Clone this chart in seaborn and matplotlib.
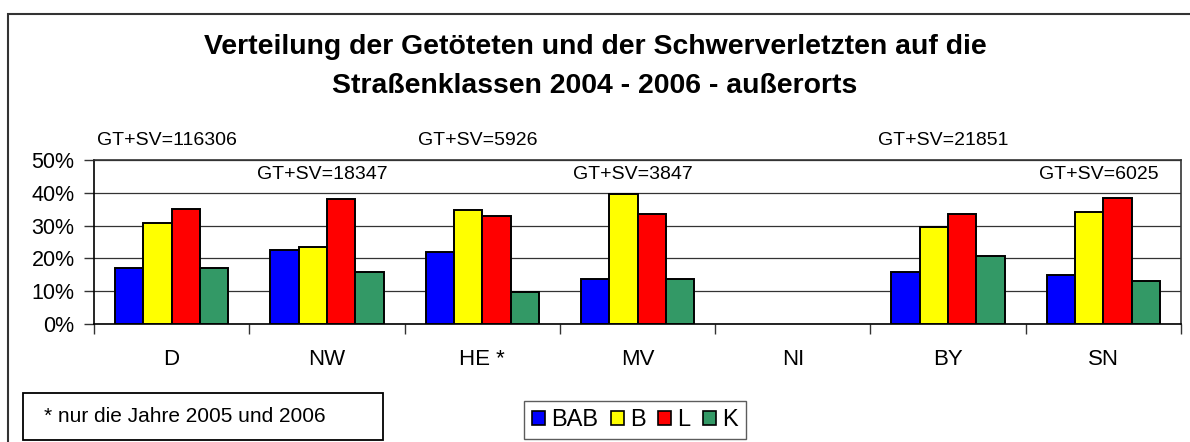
import numpy as np
import pandas as pd
import matplotlib
matplotlib.use("Agg")
import matplotlib.pyplot as plt
from matplotlib.patches import Patch, Rectangle
import seaborn as sns

# Anteile der Getoeteten + Schwerverletzten je Strassenklasse (in %)
laender = ["D", "NW", "HE *", "MV", "NI", "BY", "SN"]
klassen = ["BAB", "B", "L", "K"]
bab = [17.2, 22.6, 22.0, 13.7, np.nan, 16.0, 14.9]
b = [30.7, 23.6, 34.7, 39.5, np.nan, 29.7, 34.1]
l = [35.2, 38.0, 33.0, 33.5, np.nan, 33.5, 38.5]
k = [17.2, 16.0, 9.8, 13.7, np.nan, 20.8, 13.2]
gt_sv = ["116306", "18347", "5926", "3847", "", "21851", "6025"]
farben = ["#0000FF", "#FFFF00", "#FF0000", "#339966"]

df = pd.DataFrame({
    "Land": laender * 4,
    "Klasse": [kl for kl in klassen for _ in laender],
    "Anteil": bab + b + l + k,
})

sns.set_style("white")
plt.rcParams["font.family"] = ["Liberation Sans", "DejaVu Sans"]
plt.rcParams["text.color"] = "black"
plt.rcParams["xtick.color"] = "black"
plt.rcParams["ytick.color"] = "black"

fig = plt.figure(figsize=(11.9, 4.42), dpi=100)
ax = fig.add_axes([94 / 1190, 1 - 324 / 442, (1181 - 94) / 1190, 164 / 442])

sns.barplot(data=df, x="Land", y="Anteil", hue="Klasse", order=laender,
            hue_order=klassen, palette=farben, saturation=1, width=0.73, errorbar=None,
            edgecolor="black", linewidth=1.4, legend=False, ax=ax, zorder=3)

ax.set_ylim(0, 50)
ax.set_xlim(-0.5, len(laender) - 0.5)
ax.set_yticks(range(0, 51, 10))
ax.set_yticklabels([f"{v}%" for v in range(0, 51, 10)], fontsize=15.5)
ax.yaxis.grid(True, color="#333333", linewidth=0.9, zorder=0)
ax.set_axisbelow(True)
ax.tick_params(axis="y", length=7, width=1, color="#333333", pad=7, left=True)
ax.set_xticks(range(len(laender)))
ax.set_xticklabels(laender, fontsize=16)
ax.set_xticks(np.arange(-0.5, len(laender), 1), minor=True)
ax.tick_params(axis="x", which="major", length=0, pad=18)
ax.tick_params(axis="x", which="minor", length=7, width=1, color="#333333", bottom=True)
ax.set_xlabel("")
ax.set_ylabel("")
for s in ax.spines.values():
    s.set_color("#333333")
    s.set_linewidth(1.2)
ax.spines["left"].set_color("black")
ax.spines["bottom"].set_color("black")

# GT+SV Beschriftungen: obere Reihe D, HE, BY - untere Reihe NW, MV, SN
obere_reihe = ["D", "HE *", "BY"]
for i, n in enumerate(gt_sv):
    if not n:
        continue
    y = 56 if laender[i] in obere_reihe else 45.5
    ax.text(i - 0.03, y, f"GT+SV={n}", ha="center", va="center", fontsize=14, clip_on=False)

fig.text(0.5, 1 - 47 / 442, "Verteilung der Getöteten und der Schwerverletzten auf die",
         ha="center", va="center", fontsize=20.4, fontweight="bold")
fig.text(0.5, 1 - 86 / 442, "Straßenklassen 2004 - 2006 - außerorts",
         ha="center", va="center", fontsize=20.4, fontweight="bold")

# Rahmen und Fussnote
fig.patches.append(Rectangle((8 / 1190, -0.1), 1.2, 1 - 14 / 442 + 0.1, transform=fig.transFigure,
                             fill=False, edgecolor="#333333", linewidth=1.5))
fig.patches.append(Rectangle((23 / 1190, 1 - 440 / 442), 360 / 1190, 47 / 442, transform=fig.transFigure,
                             fill=False, edgecolor="black", linewidth=1.3))
fig.text(44 / 1190, 1 - 416 / 442, "* nur die Jahre 2005 und 2006", ha="left", va="center", fontsize=15)

handles = [Patch(facecolor=c, edgecolor="black", linewidth=1.2) for c in farben]
leg = fig.legend(handles, klassen, loc="center", bbox_to_anchor=(635 / 1190, 1 - 420 / 442),
                 ncol=4, fontsize=17, frameon=True, fancybox=False, handlelength=0.55,
                 handleheight=0.55, handletextpad=0.25, columnspacing=0.55, borderpad=0.35,
                 borderaxespad=0)
leg.get_frame().set_edgecolor("#333333")
leg.get_frame().set_linewidth(1.0)

fig.savefig("out.png", dpi=100)
